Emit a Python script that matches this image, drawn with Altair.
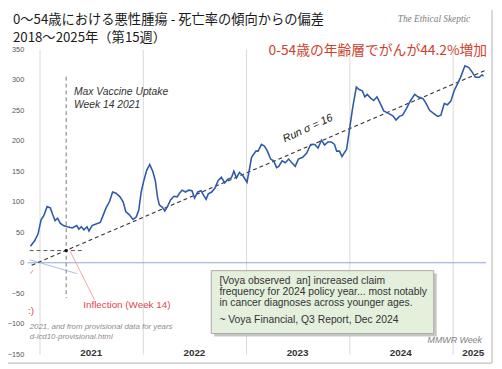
import altair as alt
import pandas as pd

# ---- data ----
weeks = [-4.6, -2.5, -0.8, 0.8, 2.1, 3.8, 5.4, 6.6, 7.8, 9.1, 10.4, 12.0, 14.0, 16.5, 18.7, 19.8,
         21.0, 22.3, 23.9, 24.9, 26.4, 28.1, 30.6, 31.8, 33.5, 35.2, 36.8, 38.5, 40.5, 42.1, 43.4,
         45.1, 47.1, 48.7, 50.0, 51.2, 52.4, 54.0, 55.5, 57.0, 58.3, 59.4, 60.3, 61.9, 63.1, 64.4,
         66.0, 67.7, 69.3, 70.5, 71.8, 73.5, 75.1, 76.8, 78.1, 79.7, 81.4, 82.6, 83.9, 85.0, 86.7,
         88.3, 90.0, 91.6, 93.3, 94.9, 96.6, 97.9, 99.2, 100.7, 102.4, 104.5, 105.6, 106.8, 109.0,
         110.1, 111.8, 113.4, 114.8, 116.4, 118.0, 119.4, 120.5, 122.2, 123.8, 125.5, 127.1, 128.8,
         130.4, 132.6, 134.6, 136.6, 138.7, 140.3, 142.0, 143.6, 145.3, 147.0, 148.6, 149.7, 151.1,
         152.4, 153.5, 154.7, 156.0, 157.7, 159.6, 161.0, 162.6, 163.9, 165.1, 166.8, 168.4, 170.0,
         171.7, 173.4, 175.8, 178.0, 179.6, 181.3, 182.9, 184.9, 186.6, 189.0, 190.7, 193.2, 194.8,
         196.5, 198.5, 200.6, 202.2, 203.9, 205.5, 207.2, 208.9, 210.5, 212.1, 214.3, 216.3, 217.9,
         219.6, 221.5, 222.9, 223.7]
values = [27, 36, 47, 71, 77, 92, 90, 79, 69, 73, 65, 61, 59, 57, 61, 55,
          59, 54, 59, 52, 61, 63, 66, 76, 90, 100, 116, 114, 108, 100, 84,
          79, 71, 75, 87, 116, 133, 152, 161, 150, 135, 108, 95, 91, 85, 92,
          103, 109, 108, 114, 119, 116, 119, 118, 106, 116, 118, 111, 104, 113, 116,
          122, 135, 140, 131, 137, 139, 150, 139, 148, 143, 132, 151, 173, 183,
          183, 194, 191, 183, 170, 167, 156, 158, 167, 164, 170, 164, 158,
          170, 173, 180, 194, 194, 188, 201, 193, 198, 198, 194, 183, 183,
          174, 180, 186, 215, 253, 288, 284, 282, 272, 276, 270, 266, 272,
          261, 249, 245, 241, 234, 240, 242, 253, 264, 276, 272, 269, 261,
          250, 245, 240, 242, 261, 259, 265, 282, 293, 304, 323, 320, 313,
          304, 304, 308, 306]

trend_weeks = [-4, 225]
trend_values = [-4, 316]

year_bounds = [0, 52, 104, 156, 208]
year_labels = ["2021", "2022", "2023", "2024", "2025"]
year_label_pos = [26, 78, 130, 182, 218.5]
y_ticks = [-150, -100, -50, 0, 50, 100, 150, 200, 250, 300, 350]

inflection_week = 13.4
inflection_value = 20

title_lines = ["0～54歳における悪性腫瘍 - 死亡率の傾向からの偏差", "2018～2025年（第15週）"]
red_headline = "0-54歳の年齢層でがんが44.2%増加"
brand = "The Ethical Skeptic"
vax_lines = ["Max Vaccine Uptake", "Week 14 2021"]
run_label = "Run σ = 16"
inflection_label = "Inflection (Week 14)"
source_lines = ["2021, and from provisional data for years", "d-icd10-provisional.html"]
quote_lines = ["[Voya observed\u00a0 an] increased claim",
               "frequency for 2024 policy year... most notably",
               "in cancer diagnoses across younger ages."]
quote_source = "~ Voya Financial, Q3 Report, Dec 2024"
xaxis_title = "MMWR Week"

# ---- scales / axes ----
xs = alt.Scale(domain=[-6, 225], nice=False, zero=False)
ys = alt.Scale(domain=[-150, 350], nice=False, zero=False)
xaxis = alt.Axis(values=year_bounds, labels=False, ticks=False, domain=False, grid=True,
                 gridColor="#d9d9d9", gridWidth=1, title=None)
yaxis = alt.Axis(values=y_ticks, grid=False, ticks=False, domain=False, title=None,
                 labelFont="Liberation Sans", labelFontSize=7.5, labelColor="#595959",
                 labelPadding=4, labelOverlap=False)

X = lambda f: alt.X(f, type="quantitative", scale=xs, axis=xaxis)
Y = lambda f: alt.Y(f, type="quantitative", scale=ys, axis=yaxis)

df = pd.DataFrame({"week": weeks, "dev": values})

line = alt.Chart(df).mark_line(color="#2f5aa8", strokeWidth=1.6).encode(x=X("week"), y=Y("dev"))

zero = alt.Chart(pd.DataFrame({"v": [0]})).mark_rule(color="#8aa5dc", strokeWidth=1).encode(y=Y("v"))

trend = alt.Chart(pd.DataFrame({"week": trend_weeks, "dev": trend_values})).mark_line(
    color="#333333", strokeDash=[4, 3], strokeWidth=1.1).encode(x=X("week"), y=Y("dev"))

hdash = alt.Chart(pd.DataFrame({"week": [-5, 21.3], "dev": [inflection_value] * 2})).mark_line(
    color="#555555", strokeDash=[4, 3], strokeWidth=1).encode(x=X("week"), y=Y("dev"))

vdash = alt.Chart(pd.DataFrame({"week": [inflection_week, inflection_week], "dev": [305, -58]})).mark_line(
    color="#777777", strokeDash=[4, 3], strokeWidth=1).encode(x=X("week"), y=Y("dev"))

marker = alt.Chart(pd.DataFrame({"week": [inflection_week], "dev": [inflection_value]})).mark_point(
    shape="square", size=8, filled=True, color="#111111", opacity=1).encode(x=X("week"), y=Y("dev"))

blue_thin = alt.Chart(pd.DataFrame({"week": [-5, 19], "dev": [5, -18]})).mark_line(
    color="#a9bde6", strokeWidth=1).encode(x=X("week"), y=Y("dev"))

red_tiny = alt.Chart(pd.DataFrame({"week": [-4.6, -3.3], "dev": [-18, -12]})).mark_line(
    color="#f08080", strokeWidth=1).encode(x=X("week"), y=Y("dev"))

red_pointer = alt.Chart(pd.DataFrame({"week": [15.4, 27.7], "dev": [19, -61]})).mark_line(
    color="#f4a3a3", strokeWidth=1).encode(x=X("week"), y=Y("dev"))

# Voya box
box_df = pd.DataFrame({"w1": [86.5], "w2": [198.6], "v1": [-12.9], "v2": [-116]})
shadow_df = pd.DataFrame({"w1": [88.0], "w2": [200.1], "v1": [-17.7], "v2": [-120.8]})
shadow = alt.Chart(shadow_df).mark_rect(color="#b8b8b8", opacity=0.8).encode(
    x=X("w1"), x2="w2", y=Y("v1"), y2="v2")
box = alt.Chart(box_df).mark_rect(fill="#e4efdc", stroke="#a8a8a8", strokeWidth=1).encode(
    x=X("w1"), x2="w2", y=Y("v1"), y2="v2")

quote_df = pd.DataFrame({"week": [90.6] * 4, "dev": [-30.6, -48.4, -66, -93.5],
                         "txt": quote_lines + [quote_source]})
quote = alt.Chart(quote_df).mark_text(align="left", baseline="middle", font="Liberation Sans",
                                      fontSize=10.5, color="#333333").encode(
    x=X("week"), y=Y("dev"), text="txt")

years = alt.Chart(pd.DataFrame({"week": year_label_pos, "dev": [-148] * 5, "txt": year_labels})).mark_text(
    baseline="middle", font="Liberation Sans", fontSize=10, fontWeight="bold", color="#333333").encode(
    x=X("week"), y=Y("dev"), text="txt")

mmwr = alt.Chart(pd.DataFrame({"week": [222.9], "dev": [-127], "txt": [xaxis_title]})).mark_text(
    align="right", baseline="middle", font="Liberation Sans", fontSize=9, fontStyle="italic",
    color="#7f7f7f").encode(x=X("week"), y=Y("dev"), text="txt")

vax = alt.Chart(pd.DataFrame({"week": [17.3, 17.3], "dev": [279.5, 258], "txt": vax_lines})).mark_text(
    align="left", baseline="middle", font="Liberation Sans", fontSize=10.5, fontStyle="italic",
    color="#333333").encode(x=X("week"), y=Y("dev"), text="txt")

run = alt.Chart(pd.DataFrame({"week": [135.2], "dev": [220], "txt": [run_label]})).mark_text(
    baseline="middle", font="Liberation Sans", fontSize=11, fontStyle="italic", angle=335,
    color="#222222").encode(x=X("week"), y=Y("dev"), text="txt")

infl = alt.Chart(pd.DataFrame({"week": [22.0], "dev": [-68.8], "txt": [inflection_label]})).mark_text(
    align="left", baseline="middle", font="Liberation Sans", fontSize=10, color="#e04552").encode(
    x=X("week"), y=Y("dev"), text="txt")

smile = alt.Chart(pd.DataFrame({"week": [-5.8], "dev": [-79], "txt": [":)"]})).mark_text(
    align="left", baseline="middle", font="Liberation Sans", fontSize=10, color="#e04552").encode(
    x=X("week"), y=Y("dev"), text="txt")

src = alt.Chart(pd.DataFrame({"week": [-5.0, -5.0], "dev": [-105, -122], "txt": source_lines})).mark_text(
    align="left", baseline="middle", font="Liberation Sans", fontSize=8, fontStyle="italic",
    color="#8c8c8c").encode(x=X("week"), y=Y("dev"), text="txt")

# titles (outside the plot area)
t1 = alt.Chart(pd.DataFrame({"txt": [title_lines[0]]})).mark_text(
    align="left", baseline="middle", font="Noto Sans CJK JP", fontSize=13.5, color="#1a1a1a").encode(
    x=alt.value(-15), y=alt.value(-30), text="txt")
t2 = alt.Chart(pd.DataFrame({"txt": [title_lines[1]]})).mark_text(
    align="left", baseline="middle", font="Noto Sans CJK JP", fontSize=13.5, color="#1a1a1a").encode(
    x=alt.value(-15), y=alt.value(-11.5), text="txt")
t3 = alt.Chart(pd.DataFrame({"txt": [red_headline]})).mark_text(
    align="right", baseline="middle", font="Noto Sans CJK JP", fontSize=14, color="#cf412d").encode(
    x=alt.value(467), y=alt.value(2), text="txt")
t4 = alt.Chart(pd.DataFrame({"txt": [brand]})).mark_text(
    align="center", baseline="middle", font="Liberation Serif", fontSize=9.5, fontStyle="italic",
    color="#808080").encode(x=alt.value(413), y=alt.value(-31), text="txt")

# frame (right and bottom edges)
frame_r = alt.Chart(pd.DataFrame({"k": [1]})).mark_rule(color="#b0b0b0", strokeWidth=1).encode(
    x=alt.value(472), y=alt.value(-40), y2=alt.value(319))
frame_b = alt.Chart(pd.DataFrame({"k": [1]})).mark_rule(color="#b0b0b0", strokeWidth=1).encode(
    x=alt.value(-21), x2=alt.value(472), y=alt.value(319))

chart = alt.layer(
    zero, blue_thin, red_tiny, red_pointer, hdash, vdash, trend, line, marker,
    shadow, box, quote, years, mmwr, vax, run, infl, smile, src, t1, t2, t3, t4, frame_r, frame_b
).properties(
    width=466, height=310,
    autosize=alt.AutoSizeParams(type="none"),
    padding={"left": 20, "top": 39, "right": 8, "bottom": 10},
    background="white",
).configure_view(stroke=None)

chart.save("out.html", embed_options={"renderer": "svg", "actions": False})
